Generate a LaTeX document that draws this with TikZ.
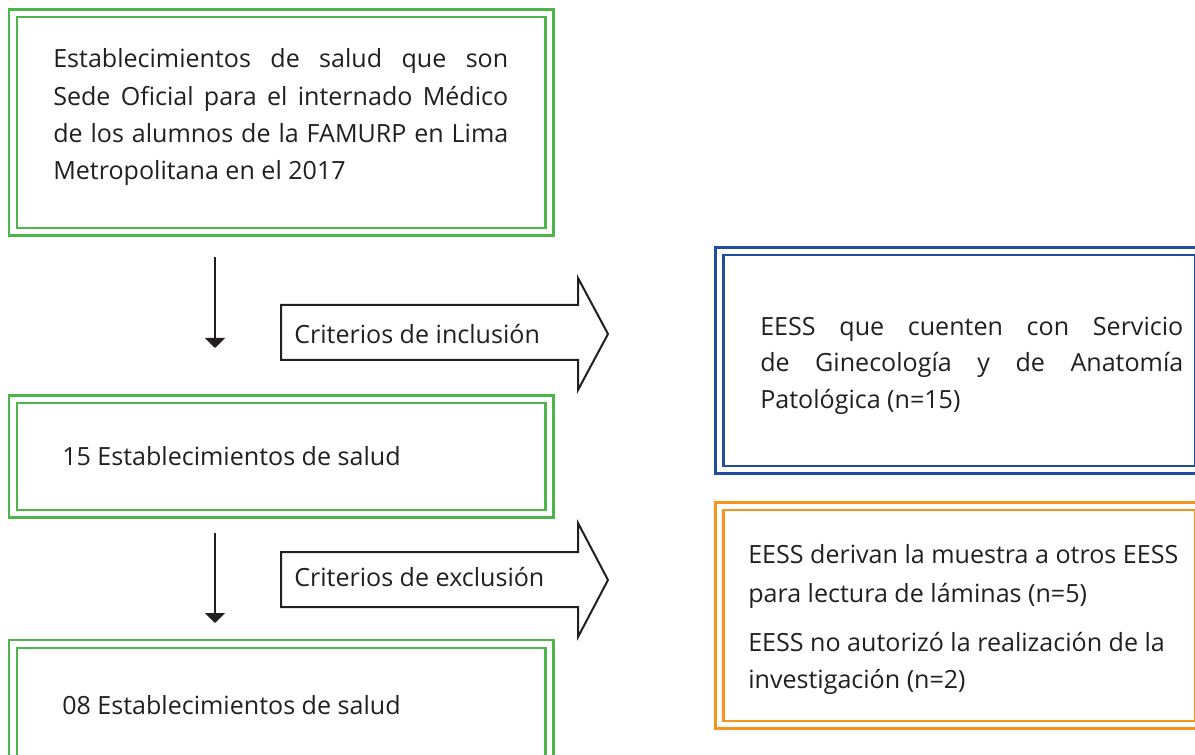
\documentclass[tikz,border=0pt]{standalone}
\usepackage{fontspec}
\setmainfont{Open Sans}
\usetikzlibrary{arrows.meta}
\definecolor{gbox}{RGB}{76,183,72}
\definecolor{bbox}{RGB}{33,77,160}
\definecolor{obox}{RGB}{247,148,29}
\definecolor{ink}{RGB}{35,31,32}
\newcommand\jlineA[1]{\makebox[341.25pt][s]{#1}}
\newcommand\jlineB[1]{\makebox[317.25pt][s]{#1}}
\tikzset{
  dbl/.style={draw=#1, line width=1.9pt, double=white, double distance=3.9pt, inner sep=0pt},
  txt/.style={anchor=base west, inner sep=0pt, text=ink, font=\fontsize{18.8}{22}\selectfont},
  flow/.style={draw=ink, line width=1.5pt, -{Triangle[width=15pt,length=7.5pt]}},
  blockarrow/.style={draw=ink, line width=1.5pt, line join=miter},
}
\begin{document}
\begin{tikzpicture}[x=0.75pt,y=-0.75pt]
\useasboundingbox (0,0) rectangle (1195,755);
\clip (0,0) rectangle (1195,755);
% green boxes
\node[dbl=gbox, minimum width=402.4pt, minimum height=163.9pt] (box1) at (281.25,122.5) {};
\node[dbl=gbox, minimum width=402.4pt, minimum height=85.9pt] (box2) at (281.25,456.5) {};
\node[dbl=gbox, minimum width=402.4pt, minimum height=90pt] (box3) at (281.25,704) {};
% blue and orange boxes
\node[dbl=bbox, minimum width=360pt, minimum height=163.9pt] (incl) at (959.5,360.5) {};
\node[dbl=obox, minimum width=360pt, minimum height=163.9pt] (excl) at (959.5,615.5) {};
% texts
\node[txt] (t1a) at (53,68) {\jlineA{Establecimientos de salud que son}};
\node[txt] (t1b) at (53,106) {\jlineA{Sede Oficial para el internado Médico}};
\node[txt] (t1c) at (53,143) {\jlineA{de los alumnos de la FAMURP en Lima}};
\node[txt] (t1d) at (53,180) {Metropolitana en el 2017};
\node[txt] (t2) at (62,465) {15 Establecimientos de salud};
\node[txt] (t3) at (62,714) {08 Establecimientos de salud};
\node[txt] (tia) at (760,335) {\jlineB{EESS que cuenten con Servicio}};
\node[txt] (tib) at (760,372) {\jlineB{de Ginecología y de Anatomía}};
\node[txt] (tic) at (760,408) {Patológica (n=15)};
\node[txt] (tea) at (748,563) {EESS derivan la muestra a otros EESS};
\node[txt] (teb) at (748,602) {para lectura de láminas (n=5)};
\node[txt] (tec) at (748,651) {EESS no autorizó la realización de la};
\node[txt] (ted) at (748,688) {investigación (n=2)};
% vertical arrows
\coordinate (v1s) at (215,257);
\coordinate (v1e) at (215,348);
\coordinate (v2s) at (215,533);
\coordinate (v2e) at (215,623);
\draw[flow] (v1s) -- (v1e);
\draw[flow] (v2s) -- (v2e);
% block arrows
\draw[blockarrow] (281,305) -- (578,305) -- (578,278) -- (608,334) -- (578,390) -- (578,360) -- (281,360) -- cycle;
\node[txt] (ci) at (294,344) {Criterios de inclusión};
\draw[blockarrow] (281,552) -- (578,552) -- (578,523) -- (608,580) -- (578,637) -- (578,607) -- (281,607) -- cycle;
\node[txt] (ce) at (294,586) {Criterios de exclusión};
\end{tikzpicture}
\end{document}
